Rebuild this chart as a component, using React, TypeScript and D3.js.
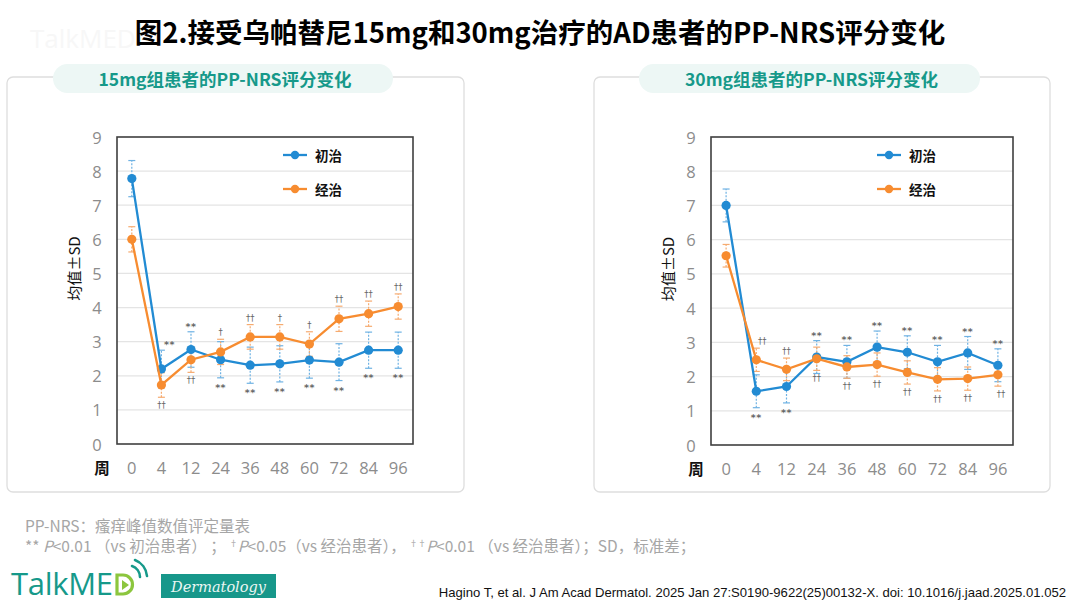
import React, { useEffect } from "react";
import * as d3 from "d3";

// ---------- data ----------
const weeks = ["0", "4", "12", "24", "36", "48", "60", "72", "84", "96"];
const yTicks = [0, 1, 2, 3, 4, 5, 6, 7, 8, 9];

const naive15 = [7.78, 2.2, 2.77, 2.47, 2.31, 2.35, 2.46, 2.4, 2.75, 2.75];
const naive15Sd = [0.53, 0.55, 0.52, 0.53, 0.53, 0.53, 0.53, 0.54, 0.53, 0.53];
const exp15 = [6.0, 1.73, 2.47, 2.7, 3.14, 3.14, 2.93, 3.67, 3.82, 4.03];
const exp15Sd = [0.37, 0.36, 0.37, 0.37, 0.36, 0.36, 0.36, 0.37, 0.37, 0.37];

const naive30 = [7.0, 1.57, 1.71, 2.57, 2.43, 2.86, 2.71, 2.43, 2.69, 2.33];
const naive30Sd = [0.48, 0.48, 0.48, 0.48, 0.48, 0.47, 0.48, 0.48, 0.48, 0.48];
const exp30 = [5.53, 2.49, 2.21, 2.52, 2.28, 2.35, 2.12, 1.92, 1.94, 2.05];
const exp30Sd = [0.33, 0.34, 0.33, 0.34, 0.33, 0.34, 0.34, 0.34, 0.34, 0.33];

type Ann = { i: number; t: string; s: "naive" | "exp"; side: "top" | "bottom"; dx?: number };

const ann15: Ann[] = [
  { i: 1, t: "**", s: "naive", side: "top", dx: 8 },
  { i: 1, t: "††", s: "exp", side: "bottom" },
  { i: 2, t: "**", s: "naive", side: "top" },
  { i: 2, t: "††", s: "exp", side: "bottom" },
  { i: 3, t: "†", s: "exp", side: "top" },
  { i: 3, t: "**", s: "naive", side: "bottom" },
  { i: 4, t: "††", s: "exp", side: "top" },
  { i: 4, t: "**", s: "naive", side: "bottom" },
  { i: 5, t: "†", s: "exp", side: "top" },
  { i: 5, t: "**", s: "naive", side: "bottom" },
  { i: 6, t: "†", s: "exp", side: "top" },
  { i: 6, t: "**", s: "naive", side: "bottom" },
  { i: 7, t: "††", s: "exp", side: "top" },
  { i: 7, t: "**", s: "naive", side: "bottom" },
  { i: 8, t: "††", s: "exp", side: "top" },
  { i: 8, t: "**", s: "naive", side: "bottom" },
  { i: 9, t: "††", s: "exp", side: "top" },
  { i: 9, t: "**", s: "naive", side: "bottom" },
];

const ann30: Ann[] = [
  { i: 1, t: "††", s: "exp", side: "top", dx: 6 },
  { i: 1, t: "**", s: "naive", side: "bottom" },
  { i: 2, t: "††", s: "exp", side: "top" },
  { i: 2, t: "**", s: "naive", side: "bottom" },
  { i: 3, t: "**", s: "naive", side: "top" },
  { i: 3, t: "††", s: "exp", side: "bottom" },
  { i: 4, t: "**", s: "naive", side: "top" },
  { i: 4, t: "††", s: "exp", side: "bottom" },
  { i: 5, t: "**", s: "naive", side: "top" },
  { i: 5, t: "††", s: "exp", side: "bottom" },
  { i: 6, t: "**", s: "naive", side: "top" },
  { i: 6, t: "††", s: "exp", side: "bottom" },
  { i: 7, t: "**", s: "naive", side: "top" },
  { i: 7, t: "††", s: "exp", side: "bottom" },
  { i: 8, t: "**", s: "naive", side: "top" },
  { i: 8, t: "††", s: "exp", side: "bottom" },
  { i: 9, t: "**", s: "naive", side: "top" },
  { i: 9, t: "††", s: "exp", side: "bottom", dx: 3 },
];

const seriesNames = ["初治", "经治"];

// ---------- style ----------
const BLUE = "#228bd3";
const ORANGE = "#f78c30";
const BLUE_ERR = "#6fb2e3";
const ORANGE_ERR = "#f6ab70";
const TEAL = "#16998a";
const CJK = "'Noto Sans CJK SC', 'Noto Sans', sans-serif";
const NUM = "'Open Sans', 'Noto Sans', sans-serif";

type PanelCfg = {
  title: string;
  box: [number, number, number, number];
  pill: [number, number];
  plot: [number, number, number, number];
  naive: number[];
  naiveSd: number[];
  exp: number[];
  expSd: number[];
  ann: Ann[];
};

const panels: PanelCfg[] = [
  {
    title: "15mg组患者的PP-NRS评分变化",
    box: [7, 77, 464, 492],
    pill: [53, 393],
    plot: [117, 137, 413, 444],
    naive: naive15,
    naiveSd: naive15Sd,
    exp: exp15,
    expSd: exp15Sd,
    ann: ann15,
  },
  {
    title: "30mg组患者的PP-NRS评分变化",
    box: [594, 77, 1050, 492],
    pill: [639, 980],
    plot: [711, 137, 1013, 445],
    naive: naive30,
    naiveSd: naive30Sd,
    exp: exp30,
    expSd: exp30Sd,
    ann: ann30,
  },
];

function Panel({ cfg }: { cfg: PanelCfg }) {
  const [l, t, r, b] = cfg.plot;
  const x = d3.scalePoint<string>().domain(weeks).range([l, r]).padding(0.5);
  const y = d3.scaleLinear().domain([0, 9]).range([b, t]);
  const line = d3
    .line<number>()
    .x((_, i) => x(weeks[i])!)
    .y((d) => y(d));

  const series = [
    { key: "naive", vals: cfg.naive, sd: cfg.naiveSd, color: BLUE, err: BLUE_ERR },
    { key: "exp", vals: cfg.exp, sd: cfg.expSd, color: ORANGE, err: ORANGE_ERR },
  ];

  const [bx0, by0, bx1, by1] = cfg.box;
  const [px0, px1] = cfg.pill;

  return (
    <g>
      <rect x={bx0} y={by0} width={bx1 - bx0} height={by1 - by0} rx={6} fill="#fff" stroke="#dedede" strokeWidth={1.3} />
      <rect x={px0} y={64} width={px1 - px0} height={29} rx={14.5} fill="#edf7f5" />
      <text x={(px0 + px1) / 2 + 2} y={78.5} textAnchor="middle" dominantBaseline="central" fontFamily={CJK} fontWeight={700} fontSize={17.5} fill={TEAL}>
        {cfg.title}
      </text>

      {yTicks.filter((v) => v > 0 && v < 9).map((v) => (
        <line key={v} x1={l} x2={r} y1={y(v)} y2={y(v)} stroke="#e4e4e4" strokeWidth={1.2} />
      ))}
      <rect x={l} y={t} width={r - l} height={b - t} fill="none" stroke="#3f3f3f" strokeWidth={1.6} />

      {yTicks.map((v) => (
        <text key={v} x={l - 20} y={y(v)} textAnchor="middle" dominantBaseline="central" fontFamily={NUM} fontSize={16.5} fill="#8c8c8c">
          {v}
        </text>
      ))}
      {weeks.map((w) => (
        <text key={w} x={x(w)} y={b + 23} textAnchor="middle" dominantBaseline="central" fontFamily={NUM} fontSize={16.5} fill="#8c8c8c">
          {w}
        </text>
      ))}
      <text x={l - 15} y={b + 23} textAnchor="middle" dominantBaseline="central" fontFamily={CJK} fontWeight={700} fontSize={15.5} fill="#111">
        周
      </text>
      <text
        transform={`translate(${l - 44},${(t + b) / 2 - 22}) rotate(-90)`}
        textAnchor="middle"
        dominantBaseline="central"
        fontFamily={CJK}
        fontSize={15}
        fill="#111"
      >
        均值±SD
      </text>

      {series.map((s) =>
        s.vals.map((v, i) => {
          const cx = x(weeks[i])!;
          const y0 = y(v - s.sd[i]);
          const y1 = y(v + s.sd[i]);
          return (
            <g key={s.key + i} stroke={s.err} strokeWidth={1.2}>
              <line x1={cx} x2={cx} y1={y0} y2={y1} strokeDasharray="2,1.5" />
              <line x1={cx - 3.5} x2={cx + 3.5} y1={y0} y2={y0} />
              <line x1={cx - 3.5} x2={cx + 3.5} y1={y1} y2={y1} />
            </g>
          );
        })
      )}

      {series.map((s) => (
        <g key={s.key}>
          <path d={line(s.vals)!} fill="none" stroke={s.color} strokeWidth={2.3} />
          {s.vals.map((v, i) => (
            <circle key={i} cx={x(weeks[i])} cy={y(v)} r={4.6} fill={s.color} />
          ))}
        </g>
      ))}

      {cfg.ann.map((a, k) => {
        const s = a.s === "naive" ? series[0] : series[1];
        const v = s.vals[a.i];
        const sd = s.sd[a.i];
        const cy = a.side === "top" ? y(v + sd) - 7 : y(v - sd) + 8;
        const star = a.t.startsWith("*");
        const base = cy + (star ? 5 : 3);
        return (
          <text
            key={k}
            x={x(weeks[a.i])! + (a.dx || 0)}
            y={base}
            textAnchor="middle"
            fontFamily="'DejaVu Sans', sans-serif"
            fontSize={star ? 9.5 : 8.5}
            fontWeight={star ? 700 : 400}
            fill="#666"
            letterSpacing={star ? 0.5 : 0}
          >
            {a.t}
          </text>
        );
      })}

      {seriesNames.map((n, k) => {
        const ly = t + 18 + k * 34;
        const c = k === 0 ? BLUE : ORANGE;
        return (
          <g key={n}>
            <line x1={l + 166} x2={l + 190} y1={ly} y2={ly} stroke={c} strokeWidth={2.3} />
            <circle cx={l + 178} cy={ly} r={4.2} fill={c} />
            <text x={l + 198} y={ly} dominantBaseline="central" fontFamily={CJK} fontWeight={700} fontSize={13.5} fill="#111">
              {n}
            </text>
          </g>
        );
      })}
    </g>
  );
}

function Logo() {
  return (
    <g>
      <text x={11} y={595} fontFamily="'Open Sans', sans-serif" fontWeight={500} fontSize={31} fill={TEAL} letterSpacing={-0.3}>
        TalkME
      </text>
      <path d="M117,575 L117,594 L123,594 A9.5,9.5 0 0 0 123,575 Z" fill="none" stroke="#8cc63e" strokeWidth={3.2} />
      <path d="M122,580 L122,590 L129,585 Z" fill="#8cc63e" />
      <path d="M132,566 A12,12 0 0 1 140,577" fill="none" stroke={TEAL} strokeWidth={2.6} strokeLinecap="round" />
      <path d="M135,560 A19,19 0 0 1 147,576" fill="none" stroke={TEAL} strokeWidth={2.6} strokeLinecap="round" />
      <rect x={161} y={574} width={115} height={24} fill="#17978a" />
      <text x={218.5} y={587} textAnchor="middle" dominantBaseline="central" fontFamily="'DejaVu Serif', serif" fontStyle="italic" fontSize={14.5} fill="#eaf6f3">
        Dermatology
      </text>
    </g>
  );
}

export default function App() {
  useEffect(() => {
    document.body.style.margin = "0";
  }, []);
  return (
    <svg width={1080} height={608} viewBox="0 0 1080 608" style={{ display: "block", position: "absolute", left: 0, top: 0, background: "#fff" }}>
      <rect width={1080} height={608} fill="#fff" />
      <text x={30} y={48} fontFamily="'Open Sans', sans-serif" fontSize={26} fill="#f7f7f7">
        TalkMED
      </text>
      <text x={540} y={31} textAnchor="middle" dominantBaseline="central" fontFamily={CJK} fontWeight={700} fontSize={27.5} fill="#000">
        图2.接受乌帕替尼15mg和30mg治疗的AD患者的PP-NRS评分变化
      </text>
      {panels.map((p, i) => (
        <Panel key={i} cfg={p} />
      ))}

      <text x={25} y={525} dominantBaseline="central" fontFamily={CJK} fontSize={15.5} fill="#a6a6a6">
        PP-NRS：瘙痒峰值数值评定量表
      </text>
      <text x={25} y={545} dominantBaseline="central" fontFamily={CJK} fontSize={15.5} fill="#a6a6a6" style={{ whiteSpace: "pre" }}>
        <tspan>{"** "}</tspan>
        <tspan fontStyle="italic">P</tspan>
        <tspan>{"<0.01 （vs 初治患者） ； "}</tspan>
        <tspan fontSize={8.5} dy={-3.5}>†</tspan>
        <tspan fontStyle="italic" dy={3.5}>P</tspan>
        <tspan>{"<0.05（vs 经治患者）， "}</tspan>
        <tspan fontSize={8.5} dy={-3.5}>††</tspan>
        <tspan fontStyle="italic" dy={3.5}>P</tspan>
        <tspan>{"<0.01 （vs 经治患者）；SD，标准差；"}</tspan>
      </text>

      <Logo />
      <text x={1066} y={592} textAnchor="end" dominantBaseline="central" fontFamily="'Liberation Sans', 'Noto Sans', sans-serif" fontSize={13.1} fill="#111">
        Hagino T, et al. J Am Acad Dermatol. 2025 Jan 27:S0190-9622(25)00132-X. doi: 10.1016/j.jaad.2025.01.052
      </text>
    </svg>
  );
}
